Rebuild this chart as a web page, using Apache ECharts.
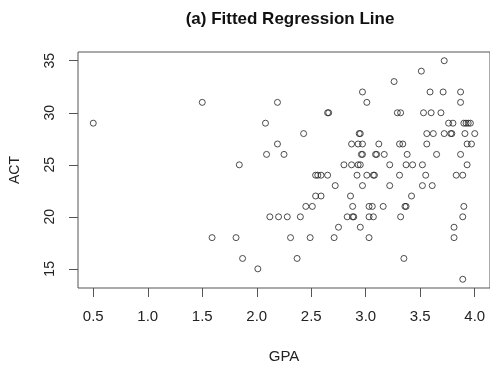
<!DOCTYPE html>
<html>
<head>
<meta charset="utf-8">
<script src="https://cdn.jsdelivr.net/npm/echarts@6/dist/echarts.min.js"></script>
<style>html,body{margin:0;padding:0;background:#fff}#c{width:490px;height:369px}</style>
</head>
<body>
<div id="c"></div>
<script>
// ACT values grouped by row; GPA values
var gpa = [
  3.72,
  3.51,
  3.26,
  2.97, 3.59, 3.71, 3.87,
  1.50, 2.19, 3.01, 3.87,
  2.65, 2.66, 3.29, 3.32, 3.53, 3.60, 3.69,
  0.50, 2.08, 3.76, 3.80, 3.90, 3.92, 3.94, 3.96,
  2.43, 2.94, 2.95, 3.56, 3.62, 3.72, 3.78, 3.79, 3.91, 4.00,
  2.19, 2.87, 2.93, 2.97, 3.12, 3.31, 3.34, 3.56, 3.93, 3.97,
  2.09, 2.25, 2.96, 2.97, 3.09, 3.10, 3.17, 3.38, 3.65, 3.87,
  1.84, 2.80, 2.87, 2.93, 2.95, 3.22, 3.37, 3.43, 3.52, 3.93,
  2.54, 2.56, 2.59, 2.65, 2.92, 3.01, 3.07, 3.08, 3.31, 3.55, 3.83, 3.89,
  2.72, 2.97, 3.22, 3.52, 3.61,
  2.54, 2.59, 2.86, 3.42,
  2.45, 2.51, 2.88, 3.03, 3.06, 3.16, 3.36, 3.37, 3.90,
  2.12, 2.20, 2.28, 2.40, 2.83, 2.88, 2.89, 3.03, 3.07, 3.32, 3.89,
  2.75, 2.95, 3.81,
  1.59, 1.81, 2.31, 2.49, 2.71, 3.03, 3.81,
  1.87, 2.37, 3.35,
  2.01,
  3.89
];
var act = [
  35,
  34,
  33,
  32, 32, 32, 32,
  31, 31, 31, 31,
  30, 30, 30, 30, 30, 30, 30,
  29, 29, 29, 29, 29, 29, 29, 29,
  28, 28, 28, 28, 28, 28, 28, 28, 28, 28,
  27, 27, 27, 27, 27, 27, 27, 27, 27, 27,
  26, 26, 26, 26, 26, 26, 26, 26, 26, 26,
  25, 25, 25, 25, 25, 25, 25, 25, 25, 25,
  24, 24, 24, 24, 24, 24, 24, 24, 24, 24, 24, 24,
  23, 23, 23, 23, 23,
  22, 22, 22, 22,
  21, 21, 21, 21, 21, 21, 21, 21, 21,
  20, 20, 20, 20, 20, 20, 20, 20, 20, 20, 20,
  19, 19, 19,
  18, 18, 18, 18, 18, 18, 18,
  16, 16, 16,
  15,
  14
];
var xTicks = [0.5, 1.0, 1.5, 2.0, 2.5, 3.0, 3.5, 4.0];
var yTicks = [15, 20, 25, 30, 35];

var pts = gpa.map(function (g, i) { return [g, act[i]]; });
var font = '"Liberation Sans", Arial, sans-serif';
var chart = echarts.init(document.getElementById('c'), null, {renderer: 'canvas'});
chart.setOption({
  animation: false,
  backgroundColor: '#fff',
  title: {
    text: '(a) Fitted Regression Line',
    left: 285, top: 6, textAlign: 'center',
    textStyle: {fontFamily: font, fontSize: 17, fontWeight: 'bold', color: '#111'}
  },
  grid: {left: 77, top: 52, right: -4, bottom: 73, show: true, borderColor: '#555', borderWidth: 1, containLabel: false},
  xAxis: {
    type: 'value', min: 0.36, max: 4.14,
    name: 'GPA', nameLocation: 'middle', nameGap: 61,
    nameTextStyle: {fontFamily: font, fontSize: 15, color: '#222'},
    axisLine: {show: false},
    axisTick: {show: true, length: 9, customValues: xTicks, lineStyle: {color: '#555'}},
    axisLabel: {customValues: xTicks, margin: 21, fontFamily: font, fontSize: 15, color: '#222',
      formatter: function (v) { return v.toFixed(1); }},
    splitLine: {show: false}
  },
  yAxis: {
    type: 'value', min: 13.16, max: 35.84,
    name: 'ACT', nameLocation: 'middle', nameGap: 56,
    nameTextStyle: {fontFamily: font, fontSize: 14, color: '#222'},
    axisLine: {show: false},
    axisTick: {show: true, length: 9, customValues: yTicks, lineStyle: {color: '#555'}},
    axisLabel: {customValues: yTicks, margin: 21, rotate: 90, fontFamily: font, fontSize: 14, color: '#222'},
    splitLine: {show: false}
  },
  series: [{
    type: 'scatter',
    data: pts,
    symbol: 'circle',
    symbolSize: 6,
    itemStyle: {color: 'rgba(0,0,0,0)', borderColor: '#222', borderWidth: 1}
  }]
});
</script>
</body>
</html>
